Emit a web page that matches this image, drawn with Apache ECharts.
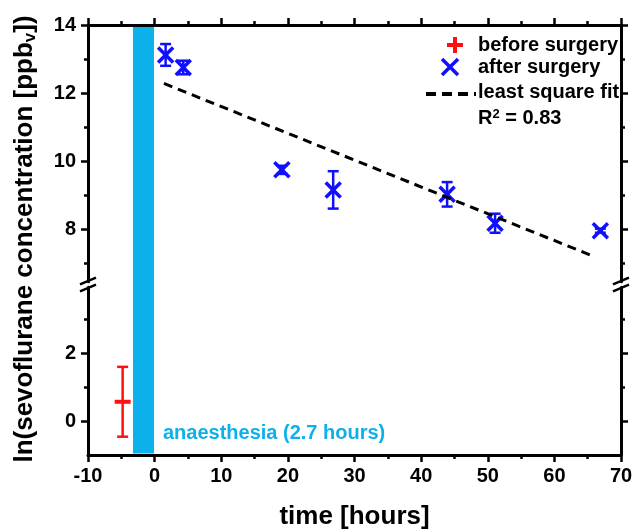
<!DOCTYPE html>
<html>
<head>
<meta charset="utf-8">
<script src="https://cdn.jsdelivr.net/npm/echarts@6/dist/echarts.min.js"></script>
<style>
  html, body { margin: 0; padding: 0; background: #fff; }
  #main { width: 633px; height: 530px; }
</style>
</head>
<body>
<div id="main"></div>
<script>
// values
const afterX = [1.65, 4.3, 19.1, 26.8, 43.9, 51.1, 66.9];
const afterY = [13.12, 12.75, 9.74, 9.15, 9.02, 8.17, 7.95];
const afterErr = [0.32, 0.2, 0.12, 0.55, 0.36, 0.28, 0.06];

const beforeX = [-4.8];
const beforeY = [0.57];
const beforeErr = [1.03];

// least square fit, two end points
const fitX = [1.4, 66.1];
const fitY = [12.28, 7.18];

const anaesthesia = [-3.25, -0.1];

const topMajor = [8, 10, 12, 14];
const topMinor = [7, 9, 11, 13];
const lowMajor = [0, 2];
const lowMinor = [1, 3];

const FONT = '"Liberation Sans", Arial, sans-serif';
const BLUE = '#1010ff';
const RED = '#ff1010';
const CYAN = '#0cb0ea';

const chart = echarts.init(document.getElementById('main'));

function errItem(kind, color) {
  return function (params, api) {
    const x = api.value(0), y = api.value(1), e = api.value(2);
    const c = api.coord([x, y]);
    const t = api.coord([x, y + e]);
    const b = api.coord([x, y - e]);
    const st = { stroke: color, lineWidth: 2.5 };
    const kids = [
      { type: 'line', shape: { x1: t[0], y1: t[1], x2: b[0], y2: b[1] }, style: st },
      { type: 'line', shape: { x1: t[0] - 5.5, y1: t[1], x2: t[0] + 5.5, y2: t[1] }, style: st },
      { type: 'line', shape: { x1: b[0] - 5.5, y1: b[1], x2: b[0] + 5.5, y2: b[1] }, style: st }
    ];
    if (kind === 'x') {
      const m = { stroke: color, lineWidth: 3.5 };
      kids.push({ type: 'line', shape: { x1: c[0] - 7.5, y1: c[1] - 7.5, x2: c[0] + 7.5, y2: c[1] + 7.5 }, style: m });
      kids.push({ type: 'line', shape: { x1: c[0] - 7.5, y1: c[1] + 7.5, x2: c[0] + 7.5, y2: c[1] - 7.5 }, style: m });
    } else {
      kids.push({ type: 'line', shape: { x1: c[0] - 8, y1: c[1], x2: c[0] + 8, y2: c[1] }, style: { stroke: color, lineWidth: 4 } });
    }
    return { type: 'group', children: kids };
  };
}

function xAx(grid, pos, labels) {
  return {
    type: 'value', gridIndex: grid, position: pos, min: -10, max: 70, interval: 10, z: 5,
    axisLine: { show: true, onZero: false, lineStyle: { color: '#000', width: 3 } },
    axisTick: { show: true, inside: false, length: 7, lineStyle: { color: '#000', width: 2.5 } },
    minorTick: { show: true, splitNumber: 2, length: 4, lineStyle: { color: '#000', width: 2.5 } },
    axisLabel: { show: labels, margin: 11, fontSize: 20, fontWeight: 'bold', color: '#000', fontFamily: FONT },
    splitLine: { show: false }
  };
}

function yAx(grid, pos, min, max, ticks, len, labels, line) {
  return {
    type: 'value', gridIndex: grid, position: pos, min: min, max: max, z: 5,
    axisLine: { show: line, onZero: false, lineStyle: { color: '#000', width: 3 } },
    axisTick: { show: true, inside: false, length: len, customValues: ticks, lineStyle: { color: '#000', width: 2.5 } },
    axisLabel: { show: labels, customValues: ticks, margin: 12, fontSize: 20, fontWeight: 'bold', color: '#000', fontFamily: FONT },
    splitLine: { show: false }
  };
}

const bottomX = xAx(1, 'bottom', true);
bottomX.name = 'time [hours]';
bottomX.nameLocation = 'middle';
bottomX.nameGap = 49;
bottomX.nameTextStyle = { fontSize: 26, fontWeight: 'bold', color: '#000', fontFamily: FONT };

function breakMarks(x) {
  return [281, 288].map(function (y) {
    return { type: 'line', shape: { x1: x - 8, y1: y + 3.3, x2: x + 8, y2: y - 3.3 }, style: { stroke: '#000', lineWidth: 2.5 }, z: 10 };
  });
}

const option = {
  animation: false,
  backgroundColor: '#fff',
  grid: [
    { left: 88, right: 12, top: 25, bottom: 248.3, outerBoundsMode: 'none', containLabel: false },
    { left: 88, right: 12, top: 287.2, bottom: 75, outerBoundsMode: 'none', containLabel: false },
    { left: 88, right: 12, top: 26.5, bottom: 76.5, outerBoundsMode: 'none', containLabel: false }
  ],
  xAxis: [
    xAx(0, 'top', false),
    bottomX,
    { type: 'value', gridIndex: 2, min: -10, max: 70, show: false }
  ],
  yAxis: [
    yAx(0, 'left', 6.45, 14, topMajor, 7, true, true),
    yAx(0, 'left', 6.45, 14, topMinor, 4, false, false),
    yAx(0, 'right', 6.45, 14, topMajor, 7, false, true),
    yAx(0, 'right', 6.45, 14, topMinor, 4, false, false),
    yAx(1, 'left', -1, 3.95, lowMajor, 7, true, true),
    yAx(1, 'left', -1, 3.95, lowMinor, 4, false, false),
    yAx(1, 'right', -1, 3.95, lowMajor, 7, false, true),
    yAx(1, 'right', -1, 3.95, lowMinor, 4, false, false),
    { type: 'value', gridIndex: 2, min: 0, max: 1, show: false }
  ],
  series: [
    {
      type: 'line', xAxisIndex: 2, yAxisIndex: 8, data: [], silent: true,
      markArea: {
        silent: true,
        itemStyle: { color: CYAN, opacity: 1 },
        label: {
          show: true, position: ['100%', '100%'], offset: [9, -20],
          align: 'left', verticalAlign: 'middle',
          color: CYAN, fontSize: 20, fontWeight: 'bold', fontFamily: FONT
        },
        data: [[{ xAxis: anaesthesia[0], name: 'anaesthesia (2.7 hours)' }, { xAxis: anaesthesia[1] }]]
      }
    },
    {
      name: 'least square fit', type: 'line', xAxisIndex: 0, yAxisIndex: 0,
      data: fitX.map(function (x, i) { return [x, fitY[i]]; }),
      showSymbol: false, symbol: 'none',
      lineStyle: { color: '#000', width: 3, type: [9, 6] }
    },
    {
      name: 'after surgery', type: 'custom', xAxisIndex: 0, yAxisIndex: 0,
      renderItem: errItem('x', BLUE),
      encode: { x: 0, y: 1 },
      data: afterX.map(function (x, i) { return [x, afterY[i], afterErr[i]]; })
    },
    {
      name: 'before surgery', type: 'custom', xAxisIndex: 1, yAxisIndex: 4,
      renderItem: errItem('plus', RED),
      encode: { x: 0, y: 1 },
      data: beforeX.map(function (x, i) { return [x, beforeY[i], beforeErr[i]]; })
    }
  ],
  graphic: [
    {
      type: 'text', x: 25, y: 239, rotation: Math.PI / 2,
      style: {
        text: 'ln(sevoflurane concentration [ppb{sub|v}])',
        align: 'center', verticalAlign: 'middle',
        fontSize: 26, fontWeight: 'bold', fill: '#000', fontFamily: FONT,
        rich: { sub: { fontSize: 17, fontWeight: 'bold', fontFamily: FONT, fill: '#000', verticalAlign: 'bottom', padding: [10, 0, 0, 0] } }
      }
    },
    // legend
    { type: 'line', shape: { x1: 447, y1: 45, x2: 463, y2: 45 }, style: { stroke: RED, lineWidth: 4 } },
    { type: 'line', shape: { x1: 455, y1: 37, x2: 455, y2: 53 }, style: { stroke: RED, lineWidth: 4 } },
    { type: 'line', shape: { x1: 442, y1: 59, x2: 458, y2: 75 }, style: { stroke: BLUE, lineWidth: 3.5 } },
    { type: 'line', shape: { x1: 442, y1: 75, x2: 458, y2: 59 }, style: { stroke: BLUE, lineWidth: 3.5 } },
    { type: 'line', shape: { x1: 426, y1: 94, x2: 476, y2: 94 }, style: { stroke: '#000', lineWidth: 4, lineDash: [10, 6] } },
    { type: 'text', x: 478, y: 45, style: { text: 'before surgery', fontSize: 20, fontWeight: 'bold', fill: '#000', fontFamily: FONT, verticalAlign: 'middle' } },
    { type: 'text', x: 478, y: 67, style: { text: 'after surgery', fontSize: 20, fontWeight: 'bold', fill: '#000', fontFamily: FONT, verticalAlign: 'middle' } },
    { type: 'text', x: 478, y: 92, style: { text: 'least square fit', fontSize: 20, fontWeight: 'bold', fill: '#000', fontFamily: FONT, verticalAlign: 'middle' } },
    {
      type: 'text', x: 478, y: 118,
      style: {
        text: 'R{sup|2} = 0.83', fontSize: 20, fontWeight: 'bold', fill: '#000', fontFamily: FONT, verticalAlign: 'middle',
        rich: { sup: { fontSize: 13, fontWeight: 'bold', fontFamily: FONT, fill: '#000', verticalAlign: 'top', padding: [0, 0, 8, 0] } }
      }
    },
    // axis break marks
    { type: 'group', children: breakMarks(88).concat(breakMarks(621)) }
  ]
};

chart.setOption(option);
</script>
</body>
</html>
